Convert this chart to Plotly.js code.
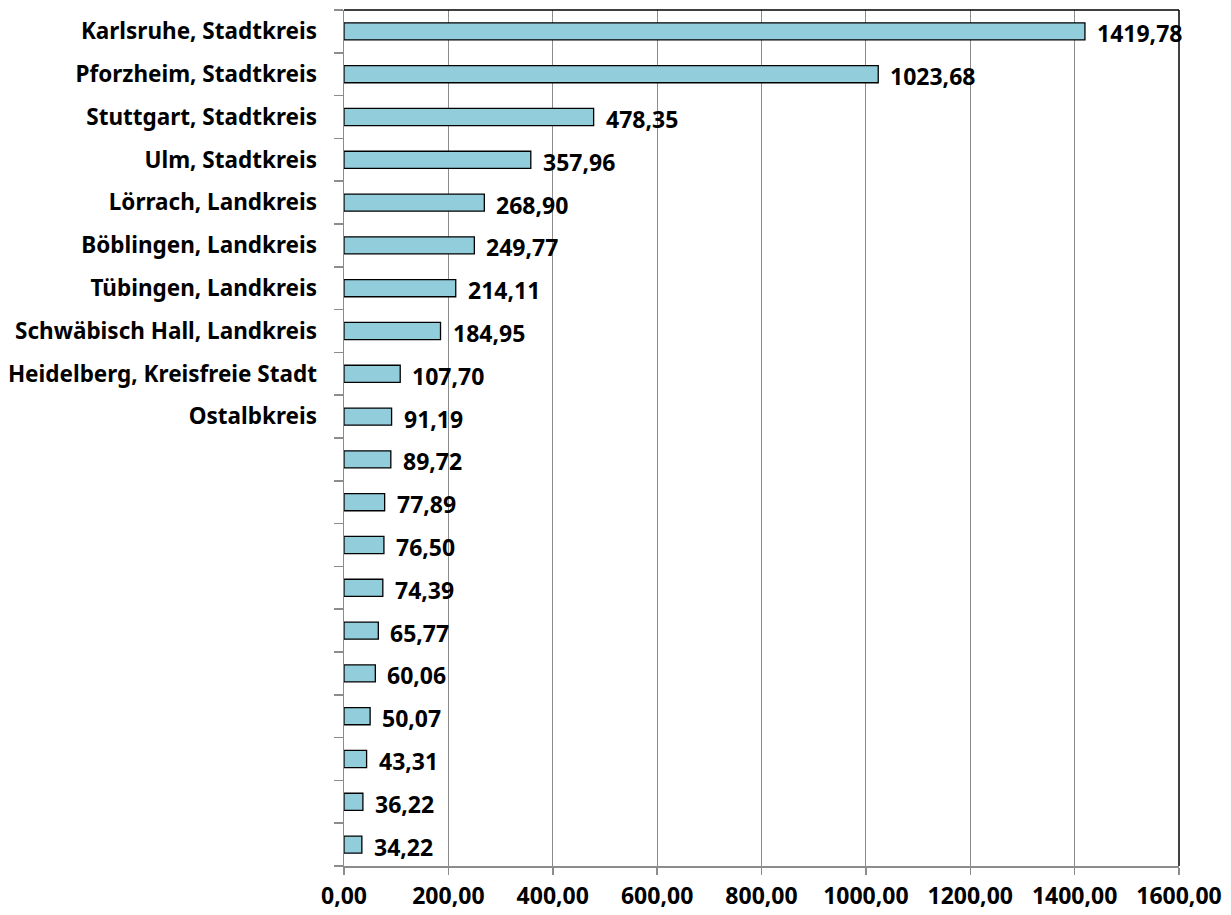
<!DOCTYPE html>
<html>
<head>
<meta charset="utf-8">
<script src="https://cdn.plot.ly/plotly-3.0.1.min.js"></script>
<style>html,body{margin:0;padding:0;background:#fff;}#chart{width:1231px;height:915px;}</style>
</head>
<body>
<div id="chart"></div>
<script>
const categories = [
  "Karlsruhe, Stadtkreis",
  "Pforzheim, Stadtkreis",
  "Stuttgart, Stadtkreis",
  "Ulm, Stadtkreis",
  "Lörrach, Landkreis",
  "Böblingen, Landkreis",
  "Tübingen, Landkreis",
  "Schwäbisch Hall, Landkreis",
  "Heidelberg, Kreisfreie Stadt",
  "Ostalbkreis",
  "", "", "", "", "", "", "", "", "", ""
];
const values = [1419.78, 1023.68, 478.35, 357.96, 268.90, 249.77, 214.11, 184.95, 107.70, 91.19,
                89.72, 77.89, 76.50, 74.39, 65.77, 60.06, 50.07, 43.31, 36.22, 34.22];
const xTicks = [0, 200, 400, 600, 800, 1000, 1200, 1400, 1600];

const fmt = v => v.toFixed(2).replace('.', ',');
const pos = values.map((v, i) => i);
const font = "Noto Sans, DejaVu Sans, sans-serif";

const trace = {
  type: 'bar',
  orientation: 'h',
  x: values,
  y: pos,
  marker: {color: '#92CDDC', line: {color: '#000000', width: 1.3}},
  hoverinfo: 'none'
};

const annotations = values.map((v, i) => ({
  x: v, y: i, xref: 'x', yref: 'y',
  text: fmt(v), showarrow: false,
  xanchor: 'left', yanchor: 'middle', xshift: 10, yshift: -2,
  font: {family: font, size: 23, color: '#000', weight: 'bold'}
}));

const layout = {
  width: 1231, height: 915,
  margin: {l: 344, r: 52, t: 10, b: 49},
  paper_bgcolor: '#fff', plot_bgcolor: '#fff',
  showlegend: false,
  bargap: 0.6,
  separators: ',.',
  xaxis: {
    range: [0, 1600], tickvals: xTicks, tickformat: '.2f',
    showgrid: true, gridcolor: '#8c8c8c', gridwidth: 1,
    showline: true, linecolor: '#8c8c8c', linewidth: 1.5,
    ticks: 'outside', ticklen: 7, tickcolor: '#8c8c8c', tickwidth: 1.5,
    zeroline: false,
    tickfont: {family: font, size: 23, color: '#000', weight: 'bold'},
    ticklabelstandoff: 2
  },
  yaxis: {
    range: [19.5, -0.5], tickvals: pos, ticktext: categories,
    showgrid: false, zeroline: false,
    showline: true, linecolor: '#8c8c8c', linewidth: 1.5,
    ticks: '', ticklabelstandoff: 21,
    tickfont: {family: font, size: 22.5, color: '#000', weight: 'bold'},
    minor: {tickvals: pos.map(p => p + 0.5).concat([-0.5]), ticks: 'outside', ticklen: 9, tickcolor: '#8c8c8c', tickwidth: 1.5, showgrid: false}
  },
  shapes: [
    {type: 'line', xref: 'paper', yref: 'paper', x0: 0, x1: 1, y0: 1, y1: 1, line: {color: '#000', width: 1.5}},
    {type: 'line', xref: 'paper', yref: 'paper', x0: 1, x1: 1, y0: 0, y1: 1, line: {color: '#000', width: 1.5}}
  ],
  annotations: annotations
};

Plotly.newPlot('chart', [trace], layout, {displayModeBar: false, staticPlot: true});
</script>
</body>
</html>
